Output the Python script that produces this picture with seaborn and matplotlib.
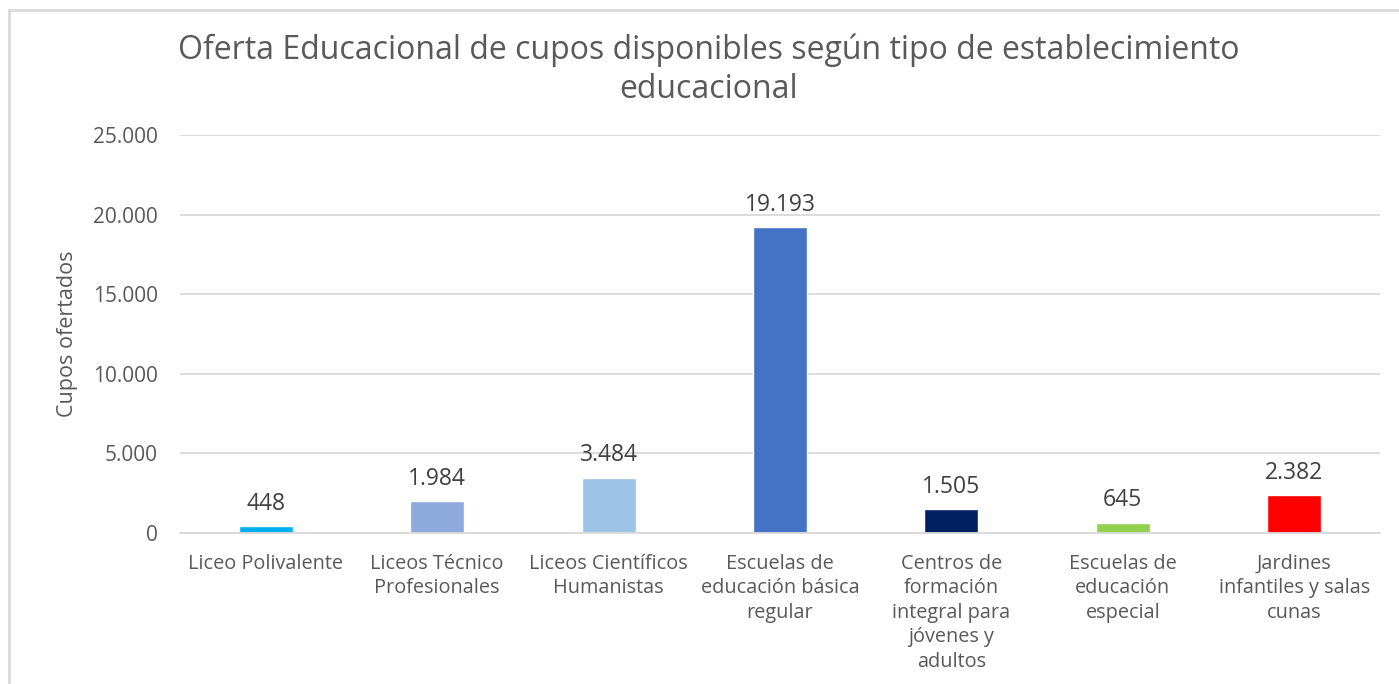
import matplotlib
matplotlib.use("Agg")
import matplotlib.pyplot as plt
import seaborn as sns
import pandas as pd
from matplotlib.patches import Rectangle
from matplotlib.ticker import FuncFormatter

# data
categorias = [
    "Liceo Polivalente",
    "Liceos Técnico\nProfesionales",
    "Liceos Científicos\nHumanistas",
    "Escuelas de\neducación básica\nregular",
    "Centros de\nformación\nintegral para\njóvenes y\nadultos",
    "Escuelas de\neducación\nespecial",
    "Jardines\ninfantiles y salas\ncunas",
]
cupos = [448, 1984, 3484, 19193, 1505, 645, 2382]
colores = ["#00B0F0", "#8EA9DB", "#9DC3E6", "#4472C4", "#002060", "#92D050", "#FF0000"]
yticks = [0, 5000, 10000, 15000, 20000, 25000]

df = pd.DataFrame({"tipo": categorias, "cupos": cupos})

sns.set_style("white")
plt.rcParams["font.family"] = ["Open Sans", "DejaVu Sans"]
gris = "#595959"

fig = plt.figure(figsize=(13.99, 6.84), dpi=100)
ax = fig.add_axes([180 / 1399, 1 - 533 / 684, 1200 / 1399, 398 / 684])

sns.barplot(data=df, x="tipo", y="cupos", hue="tipo", palette=colores,
            legend=False, width=0.315, ax=ax, saturation=1)

ax.set_ylim(0, 25000)
ax.set_yticks(yticks)
ax.yaxis.set_major_formatter(FuncFormatter(lambda v, p: f"{int(v):,}".replace(",", ".")))
ax.grid(axis="y", color="#D9D9D9", linewidth=1.3)
ax.set_axisbelow(True)
for s in ["top", "right", "left"]:
    ax.spines[s].set_visible(False)
ax.spines["bottom"].set_color("#D9D9D9")
ax.spines["bottom"].set_linewidth(1.3)
ax.tick_params(axis="y", labelsize=15, colors=gris, length=0, pad=16)
ax.tick_params(axis="x", labelsize=14.3, colors=gris, length=0, pad=15)
for lab in ax.get_xticklabels():
    lab.set_linespacing(1.3)
    lab.set_verticalalignment("top")

ax.set_xlabel("")
ax.set_ylabel("Cupos ofertados", fontsize=15.5, color=gris, labelpad=11)

# data labels
for i, v in enumerate(cupos):
    ax.text(i, v + 650, f"{v:,}".replace(",", "."), ha="center", va="bottom",
            fontsize=16.5, color="#404040")

fig.text(709 / 1399, 1 - 70 / 684,
         "Oferta Educacional de cupos disponibles según tipo de establecimiento\neducacional",
         ha="center", va="center", fontsize=23, color=gris, linespacing=1.25)

# chart frame
fig.patches.append(Rectangle((9 / 1399, -0.1), 1.2, 1 - 10 / 684 + 0.1,
                             transform=fig.transFigure, fill=False,
                             edgecolor="#D9D9D9", linewidth=2))

fig.savefig("out.png", dpi=100, facecolor="white")
